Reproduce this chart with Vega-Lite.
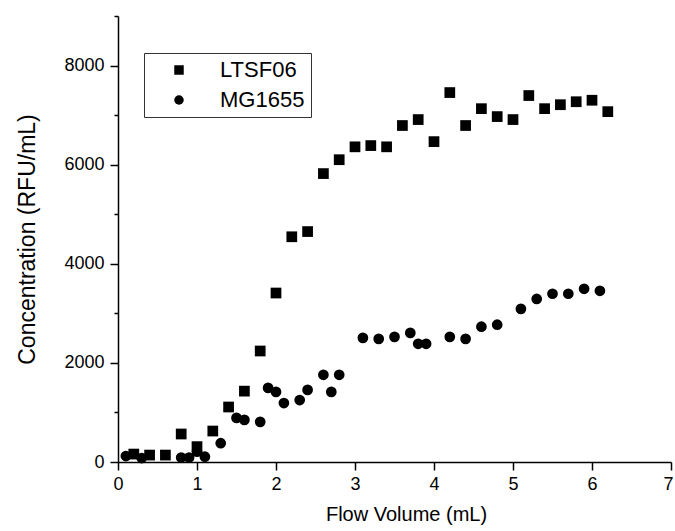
{
  "$schema": "https://vega.github.io/schema/vega-lite/v6.json",
  "autosize": {"type": "none"},
  "width": 553,
  "height": 446,
  "padding": {"left": 118, "top": 16, "right": 4, "bottom": 69},
  "background": "white",
  "config": {
    "view": {"stroke": null},
    "font": "Liberation Sans",
    "axis": {
      "domainColor": "black",
      "domainWidth": 1.5,
      "tickColor": "black",
      "tickWidth": 1.5,
      "grid": false,
      "labelColor": "black",
      "titleColor": "black",
      "labelFont": "Liberation Sans",
      "titleFont": "Liberation Sans",
      "labelFontSize": 18,
      "titleFontWeight": "normal"
    }
  },
  "data": {
    "values": [
      {"strain": "LTSF06", "volume": 0.2, "conc": 160},
      {"strain": "LTSF06", "volume": 0.4, "conc": 140},
      {"strain": "LTSF06", "volume": 0.6, "conc": 140},
      {"strain": "LTSF06", "volume": 0.8, "conc": 565},
      {"strain": "LTSF06", "volume": 1.0, "conc": 310},
      {"strain": "LTSF06", "volume": 1.2, "conc": 625},
      {"strain": "LTSF06", "volume": 1.4, "conc": 1110},
      {"strain": "LTSF06", "volume": 1.6, "conc": 1430},
      {"strain": "LTSF06", "volume": 1.8, "conc": 2240},
      {"strain": "LTSF06", "volume": 2.0, "conc": 3410},
      {"strain": "LTSF06", "volume": 2.2, "conc": 4545},
      {"strain": "LTSF06", "volume": 2.4, "conc": 4650},
      {"strain": "LTSF06", "volume": 2.6, "conc": 5820},
      {"strain": "LTSF06", "volume": 2.8, "conc": 6100},
      {"strain": "LTSF06", "volume": 3.0, "conc": 6360},
      {"strain": "LTSF06", "volume": 3.2, "conc": 6385},
      {"strain": "LTSF06", "volume": 3.4, "conc": 6360},
      {"strain": "LTSF06", "volume": 3.6, "conc": 6790},
      {"strain": "LTSF06", "volume": 3.8, "conc": 6910},
      {"strain": "LTSF06", "volume": 4.0, "conc": 6465},
      {"strain": "LTSF06", "volume": 4.2, "conc": 7455},
      {"strain": "LTSF06", "volume": 4.4, "conc": 6790},
      {"strain": "LTSF06", "volume": 4.6, "conc": 7130},
      {"strain": "LTSF06", "volume": 4.8, "conc": 6970},
      {"strain": "LTSF06", "volume": 5.0, "conc": 6910},
      {"strain": "LTSF06", "volume": 5.2, "conc": 7395},
      {"strain": "LTSF06", "volume": 5.4, "conc": 7130},
      {"strain": "LTSF06", "volume": 5.6, "conc": 7210},
      {"strain": "LTSF06", "volume": 5.8, "conc": 7270},
      {"strain": "LTSF06", "volume": 6.0, "conc": 7300},
      {"strain": "LTSF06", "volume": 6.2, "conc": 7070},
      {"strain": "MG1655", "volume": 0.1, "conc": 120},
      {"strain": "MG1655", "volume": 0.3, "conc": 80},
      {"strain": "MG1655", "volume": 0.8, "conc": 90},
      {"strain": "MG1655", "volume": 0.9, "conc": 90},
      {"strain": "MG1655", "volume": 1.0, "conc": 210},
      {"strain": "MG1655", "volume": 1.1, "conc": 107},
      {"strain": "MG1655", "volume": 1.3, "conc": 380},
      {"strain": "MG1655", "volume": 1.5, "conc": 890},
      {"strain": "MG1655", "volume": 1.6, "conc": 850},
      {"strain": "MG1655", "volume": 1.8, "conc": 810},
      {"strain": "MG1655", "volume": 1.9, "conc": 1495},
      {"strain": "MG1655", "volume": 2.0, "conc": 1415},
      {"strain": "MG1655", "volume": 2.1, "conc": 1190},
      {"strain": "MG1655", "volume": 2.3, "conc": 1250},
      {"strain": "MG1655", "volume": 2.4, "conc": 1455},
      {"strain": "MG1655", "volume": 2.6, "conc": 1760},
      {"strain": "MG1655", "volume": 2.7, "conc": 1415},
      {"strain": "MG1655", "volume": 2.8, "conc": 1760},
      {"strain": "MG1655", "volume": 3.1, "conc": 2505},
      {"strain": "MG1655", "volume": 3.3, "conc": 2485},
      {"strain": "MG1655", "volume": 3.5, "conc": 2525},
      {"strain": "MG1655", "volume": 3.7, "conc": 2605},
      {"strain": "MG1655", "volume": 3.8, "conc": 2385},
      {"strain": "MG1655", "volume": 3.9, "conc": 2385},
      {"strain": "MG1655", "volume": 4.2, "conc": 2525},
      {"strain": "MG1655", "volume": 4.4, "conc": 2485},
      {"strain": "MG1655", "volume": 4.6, "conc": 2730},
      {"strain": "MG1655", "volume": 4.8, "conc": 2770},
      {"strain": "MG1655", "volume": 5.1, "conc": 3090},
      {"strain": "MG1655", "volume": 5.3, "conc": 3290},
      {"strain": "MG1655", "volume": 5.5, "conc": 3395},
      {"strain": "MG1655", "volume": 5.7, "conc": 3395},
      {"strain": "MG1655", "volume": 5.9, "conc": 3495},
      {"strain": "MG1655", "volume": 6.1, "conc": 3455}
    ]
  },
  "mark": {"type": "point", "filled": true, "opacity": 1, "size": 115, "color": "black"},
  "encoding": {
    "x": {
      "field": "volume",
      "type": "quantitative",
      "scale": {"domain": [0, 7], "nice": false, "zero": false},
      "axis": {
        "title": "Flow Volume (mL)",
        "titleFontSize": 20,
        "titleX": 288,
        "titleY": 52,
        "titleBaseline": "middle",
        "titleAlign": "center",
        "values": [0, 0.5, 1, 1.5, 2, 2.5, 3, 3.5, 4, 4.5, 5, 5.5, 6, 6.5, 7],
        "format": "d",
        "labelExpr": "datum.value % 1 === 0 ? datum.label : ''",
        "labelAlign": {"condition": {"test": "datum.value === 7", "value": "right"}, "value": "center"},
        "labelOffset": {"condition": {"test": "datum.value === 7", "value": 2}, "value": 0},
        "tickSize": {"condition": {"test": "datum.value % 1 === 0", "value": 8}, "value": 4},
        "labelPadding": 5,
        "labelFlush": false,
        "labelOverlap": false
      }
    },
    "y": {
      "field": "conc",
      "type": "quantitative",
      "scale": {"domain": [0, 9000], "nice": false},
      "axis": {
        "title": "Concentration (RFU/mL)",
        "titleFontSize": 23,
        "titleX": -91,
        "titleY": 223,
        "titleAngle": -90,
        "titleBaseline": "middle",
        "titleAlign": "center",
        "values": [0, 1000, 2000, 3000, 4000, 5000, 6000, 7000, 8000, 9000],
        "format": "d",
        "labelExpr": "datum.value % 2000 === 0 ? datum.label : ''",
        "tickSize": {"condition": {"test": "datum.value % 2000 === 0", "value": 8}, "value": 4},
        "labelPadding": 6,
        "labelFlush": false,
        "labelOverlap": false
      }
    },
    "shape": {
      "field": "strain",
      "type": "nominal",
      "scale": {"domain": ["LTSF06", "MG1655"], "range": ["square", "circle"]},
      "legend": {
        "title": null,
        "orient": "none",
        "legendX": 26,
        "legendY": 37,
        "strokeColor": "#333333",
        "fillColor": "white",
        "padding": 6,
        "symbolOffset": 18,
        "symbolSize": 90,
        "symbolFillColor": "black",
        "symbolStrokeColor": "black",
        "symbolStrokeWidth": 0,
        "labelFont": "Liberation Sans",
        "labelFontSize": 22,
        "labelColor": "black",
        "labelOffset": 30,
        "rowPadding": 8
      }
    }
  }
}
